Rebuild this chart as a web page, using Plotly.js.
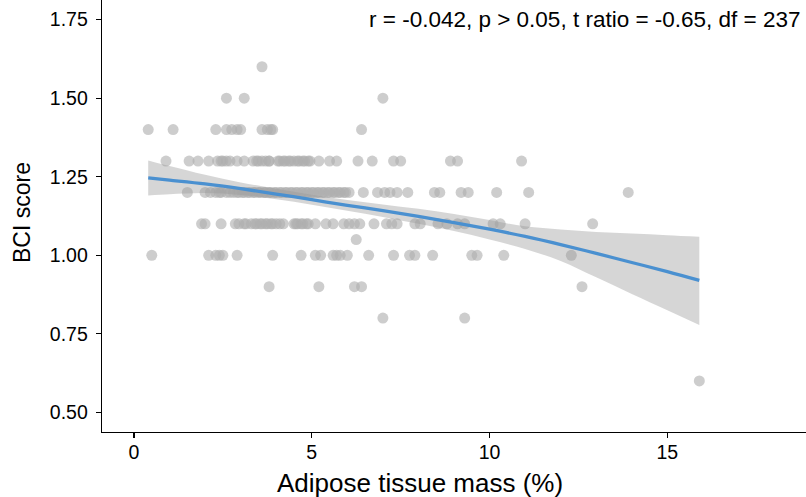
<!DOCTYPE html>
<html>
<head>
<meta charset="utf-8">
<script src="https://cdn.plot.ly/plotly-3.0.1.min.js"></script>
<style>html,body{margin:0;padding:0;background:#fff;}#chart{width:806px;height:497px;}</style>
</head>
<body>
<div id="chart"></div>
<script>
// Adipose tissue mass (%) values, grouped by BCI score level
const bciLevels = [1.6, 1.5, 1.4, 1.3, 1.2, 1.1, 1.05, 1.0, 0.9, 0.8, 0.6];
const adipose_160 = [3.6];
const adipose_150 = [2.6, 3.1, 7.0];
const adipose_140 = [0.4, 1.1, 2.3, 2.6, 2.75, 2.9, 3.0, 3.6, 3.75, 3.85, 3.9, 6.4];
const adipose_130 = [0.9, 1.55, 1.8, 2.1, 2.35, 2.45, 2.5, 2.6, 2.7, 2.9, 3.1, 3.35, 3.45, 3.5, 3.6, 3.7, 3.8, 3.8, 4.05, 4.1, 4.2, 4.25, 4.35, 4.4, 4.5, 4.6, 4.65, 4.75, 4.8, 4.9, 4.95, 5.2, 5.5, 5.7, 6.3, 6.7, 7.3, 7.5, 8.9, 9.1, 10.9];
const adipose_120 = [1.5, 2.0, 2.15, 2.3, 2.4, 2.45, 2.6, 2.7, 2.8, 2.9, 2.95, 3.05, 3.1, 3.2, 3.25, 3.35, 3.4, 3.5, 3.55, 3.65, 3.7, 3.8, 3.85, 3.95, 4.0, 4.1, 4.15, 4.25, 4.3, 4.4, 4.45, 4.55, 4.6, 4.7, 4.75, 4.85, 4.9, 5.0, 5.05, 5.15, 5.2, 5.3, 5.35, 5.45, 5.5, 5.6, 5.65, 5.75, 5.8, 5.9, 5.95, 6.05, 6.45, 6.85, 7.05, 7.2, 7.4, 7.7, 8.45, 8.6, 9.2, 9.4, 10.2, 11.1, 13.9];
const adipose_110 = [1.9, 2.0, 2.45, 2.85, 2.95, 3.1, 3.15, 3.3, 3.4, 3.45, 3.55, 3.6, 3.7, 3.75, 3.85, 3.9, 4.0, 4.1, 4.2, 4.5, 4.55, 4.6, 4.7, 4.75, 4.85, 4.9, 5.1, 5.4, 5.6, 5.9, 6.05, 6.2, 6.35, 6.75, 7.1, 7.25, 7.4, 7.9, 8.05, 8.55, 8.8, 9.1, 9.3, 10.1, 10.3, 11.0, 12.9];
const adipose_105 = [6.25];
const adipose_100 = [0.5, 2.1, 2.3, 2.4, 2.5, 2.9, 3.9, 4.7, 5.1, 5.25, 5.6, 5.7, 5.8, 6.0, 6.6, 7.3, 7.75, 7.9, 8.4, 9.5, 9.65, 10.4, 12.3];
const adipose_090 = [3.8, 5.2, 6.2, 6.4, 12.6];
const adipose_080 = [7.0, 9.3];
const adipose_060 = [15.9];

// Smoothed fit and confidence band
const smoothX = [0.4, 1, 2, 3, 4, 5, 6, 7, 8, 9, 10, 11, 12, 13, 14, 15, 15.9];
const smoothY = [1.246, 1.239, 1.227, 1.212, 1.195, 1.177, 1.159, 1.142, 1.124, 1.104, 1.083, 1.060, 1.034, 1.006, 0.977, 0.948, 0.920];
const smoothUpper = [1.302, 1.284, 1.256, 1.232, 1.212, 1.193, 1.176, 1.162, 1.148, 1.131, 1.112, 1.092, 1.082, 1.074, 1.069, 1.064, 1.059];
const smoothLower = [1.190, 1.194, 1.198, 1.192, 1.178, 1.161, 1.142, 1.122, 1.100, 1.077, 1.050, 1.020, 0.982, 0.930, 0.877, 0.825, 0.778];

const xTicks = [0, 5, 10, 15];
const yTicks = [0.5, 0.75, 1.0, 1.25, 1.5, 1.75];
const xTitle = 'Adipose tissue mass (%)';
const yTitle = 'BCI score';
const statText = 'r = -0.042, p > 0.05, t ratio = -0.65, df = 237';

const groups = [adipose_160, adipose_150, adipose_140, adipose_130, adipose_120, adipose_110, adipose_105, adipose_100, adipose_090, adipose_080, adipose_060];
const px = [], py = [];
groups.forEach((g, i) => g.forEach(v => { px.push(v); py.push(bciLevels[i]); }));

const font = 'Liberation Sans, Arial, Helvetica, sans-serif';
const traces = [
  {x: px, y: py, type: 'scatter', mode: 'markers',
   marker: {size: 11, color: 'rgba(175,175,175,0.62)', line: {width: 0}}, hoverinfo: 'skip'},
  {x: smoothX, y: smoothLower, type: 'scatter', mode: 'lines', line: {width: 0, color: 'rgba(0,0,0,0)', shape: 'spline'}, hoverinfo: 'skip'},
  {x: smoothX, y: smoothUpper, type: 'scatter', mode: 'lines', line: {width: 0, color: 'rgba(0,0,0,0)', shape: 'spline'},
   fill: 'tonexty', fillcolor: 'rgba(153,153,153,0.4)', hoverinfo: 'skip'},
  {x: smoothX, y: smoothY, type: 'scatter', mode: 'lines', line: {width: 3.3, color: '#4a90d0', shape: 'spline'}, hoverinfo: 'skip'}
];

const axisCommon = {
  showgrid: false, zeroline: false, showline: true, linecolor: '#000', linewidth: 1.3,
  ticks: 'outside', ticklen: 5, tickwidth: 1.3, tickcolor: '#000',
  tickfont: {size: 19.5, family: font, color: '#000'}
};

const layout = {
  width: 806, height: 497,
  margin: {l: 102, r: 0, t: 0, b: 65},
  paper_bgcolor: '#fff', plot_bgcolor: '#fff',
  showlegend: false,
  font: {family: font, color: '#000'},
  xaxis: Object.assign({}, axisCommon, {
    range: [-0.9, 18.9], tickvals: xTicks, ticktext: xTicks.map(String),
    ticklabelstandoff: -3
  }),
  yaxis: Object.assign({}, axisCommon, {
    range: [0.4375, 1.8125], tickvals: yTicks, ticktext: yTicks.map(v => v.toFixed(2)),
    ticklabelstandoff: 4
  }),
  annotations: [
    {text: statText, xref: 'paper', yref: 'paper', x: 0.9955, y: 0.954,
     xanchor: 'right', yanchor: 'middle', showarrow: false,
     font: {size: 22.5, family: font, color: '#000'}},
    {text: xTitle, xref: 'paper', yref: 'paper', x: 0.4517, y: -0.118,
     xanchor: 'center', yanchor: 'middle', showarrow: false,
     font: {size: 26, family: font, color: '#000'}},
    {text: yTitle, xref: 'paper', yref: 'paper', x: -0.1136, y: 0.507, textangle: -90,
     xanchor: 'center', yanchor: 'middle', showarrow: false,
     font: {size: 23, family: font, color: '#000'}}
  ]
};

Plotly.newPlot('chart', traces, layout, {staticPlot: true, displayModeBar: false});
</script>
</body>
</html>
